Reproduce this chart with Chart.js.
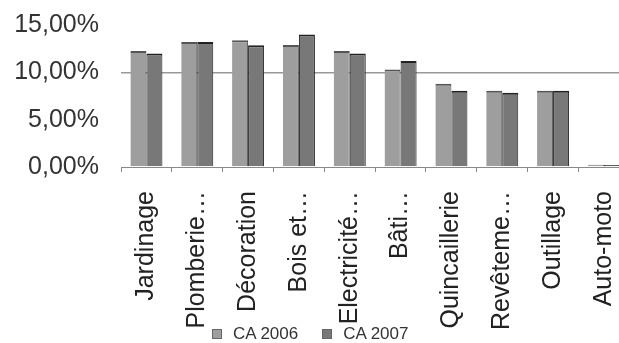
<!DOCTYPE html>
<html>
<head>
<meta charset="utf-8">
<script src="https://cdn.jsdelivr.net/npm/chart.js@4/dist/chart.umd.min.js"></script>
<style>
  html, body { margin: 0; padding: 0; background: #fff; overflow: hidden; }
  #wrap { position: relative; width: 619px; height: 343px; overflow: hidden; }
  #c { position: absolute; left: 0; top: -12px; }
  #legend { position: absolute; left: 212px; top: 324px; white-space: nowrap;
            font-family: "Liberation Sans", Arial, sans-serif;
            font-size: 17px; line-height: 20px; color: #333; }
  #legend span.item { display: inline-block; margin-right: 24px; }
  #legend span.box { display: inline-block; width: 8px; height: 8px; margin-right: 11px;
                     border: 1px solid #666; vertical-align: 0px; }
</style>
</head>
<body>
<div id="wrap">
  <canvas id="c" width="653" height="343"></canvas>
  <div id="legend"></div>
</div>
<script>
// Rayons, parts du chiffre d'affaires (%)
const categories = ["Jardinage", "Plomberie…", "Décoration", "Bois et…", "Electricité…",
                    "Bâti…", "Quincaillerie", "Revêteme…", "Outillage", "Auto-moto"];
const ca2006 = [12.25, 13.2, 13.4, 12.9, 12.25, 10.3, 8.8, 8.05, 8.05, 0.25];
const ca2007 = [12.0, 13.2, 12.85, 14.0, 12.0, 11.2, 8.05, 7.85, 8.05, 0.2];
const yTicks = [0, 5, 10, 15];
const seriesNames = ["CA 2006", "CA 2007"];
const seriesColors = ["#9e9e9e", "#787878"];

const fmt = v => v.toFixed(2).replace(".", ",") + "%";

const chart = new Chart(document.getElementById("c"), {
  type: "bar",
  data: {
    labels: categories,
    datasets: [
      { label: seriesNames[0], data: ca2006, backgroundColor: seriesColors[0],
        borderColor: "#555", borderWidth: { top: 2, right: 1, left: 0, bottom: 0 }, borderSkipped: "bottom" },
      { label: seriesNames[1], data: ca2007, backgroundColor: seriesColors[1],
        borderColor: "#222", borderWidth: { top: 2, right: 1, left: 1, bottom: 0 }, borderSkipped: "bottom" }
    ]
  },
  options: {
    responsive: false,
    animation: false,
    layout: { padding: { top: 8, right: 2, left: 0, bottom: 0 } },
    plugins: { legend: { display: false }, tooltip: { enabled: false } },
    datasets: { bar: { categoryPercentage: 0.63, barPercentage: 1.0 } },
    scales: {
      x: {
        afterFit: s => { s.height = 164; },
        grid: { display: true, drawOnChartArea: false, drawTicks: true, tickLength: 5,
                color: "#888", offset: true },
        border: { display: true, color: "#888", width: 1 },
        ticks: { maxRotation: 90, minRotation: 90, autoSkip: false, padding: 19,
                 color: "#222",
                 font: { family: "'Liberation Sans', Arial, sans-serif", size: 25 } }
      },
      y: {
        min: 0, max: 15,
        afterFit: s => { s.width = 121; },
        afterBuildTicks: axis => { axis.ticks = yTicks.map(v => ({ value: v })); },
        grid: { drawTicks: false,
                color: ctx => (ctx.tick && ctx.tick.value === 10) ? "#999" : "rgba(0,0,0,0)",
                lineWidth: 1.5 },
        border: { display: false },
        ticks: { padding: 22, color: "#333", callback: v => fmt(v),
                 font: { family: "'Liberation Sans', Arial, sans-serif", size: 25 } }
      }
    }
  }
});

// Légende sous le graphique
const legend = document.getElementById("legend");
chart.data.datasets.forEach((ds, i) => {
  const item = document.createElement("span");
  item.className = "item";
  const box = document.createElement("span");
  box.className = "box";
  box.style.background = seriesColors[i];
  item.appendChild(box);
  item.appendChild(document.createTextNode(ds.label));
  legend.appendChild(item);
});
</script>
</body>
</html>
